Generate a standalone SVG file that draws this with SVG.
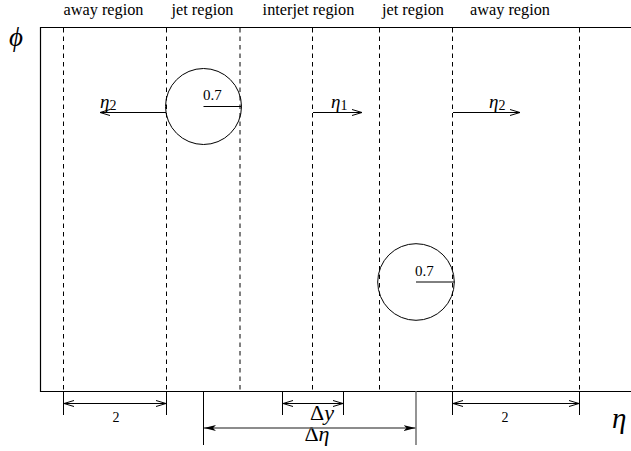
<svg xmlns="http://www.w3.org/2000/svg" width="631" height="451" viewBox="0 0 631 451">
<style>
.hdr{font-size:16.3px;text-anchor:middle}
.lbl{font-size:14px;text-anchor:middle}
.num{font-size:15px}
.math{font-style:italic}
.edge{stroke:#000;stroke-width:1.2;fill:none}
.dash{stroke:#000;stroke-width:1;stroke-dasharray:4.5,4;fill:none}
.thin{stroke:#000;stroke-width:1;fill:none}
.open{marker-end:url(#openHead)}
.dbl{marker-start:url(#openHead);marker-end:url(#openHead)}
</style>
<defs>
<marker id="openHead" viewBox="0 0 10 8" refX="10" refY="4" markerWidth="10" markerHeight="8" markerUnits="userSpaceOnUse" orient="auto-start-reverse">
<path d="M0,1 L10,4 L0,7" fill="none" stroke="#000" stroke-width="1"/>
</marker>
<marker id="solidHead" viewBox="0 0 12 8" refX="12" refY="4" markerWidth="12" markerHeight="8" markerUnits="userSpaceOnUse" orient="auto-start-reverse">
<path d="M0,1 L12,4 L0,7 L3,4 z" fill="#000"/>
</marker>
</defs>

<g id="frame">
<path class="edge" d="M631,27.5 H40.5 V391.5 H631"/>
</g>

<g id="region-boundaries">
<line class="dash" x1="63.5" y1="28" x2="63.5" y2="391"/>
<line class="dash" x1="166.5" y1="28" x2="166.5" y2="391"/>
<line class="dash" x1="240" y1="28" x2="240" y2="391"/>
<line class="dash" x1="312.5" y1="28" x2="312.5" y2="391"/>
<line class="dash" x1="379.5" y1="28" x2="379.5" y2="391"/>
<line class="dash" x1="452.5" y1="28" x2="452.5" y2="391"/>
<line class="dash" x1="579.5" y1="28" x2="579.5" y2="391"/>
</g>

<g font-family="Liberation Serif, Times New Roman, DejaVu Serif, serif" fill="#000">
<g id="headers">
<text class="hdr" x="103.5" y="15">away region</text>
<text class="hdr" x="202.5" y="15">jet region</text>
<text class="hdr" x="308.5" y="15">interjet region</text>
<text class="hdr" x="413" y="15">jet region</text>
<text class="hdr" x="510" y="15">away region</text>
</g>

<g id="axis-labels">
<text class="math" x="9" y="46" font-size="27">ϕ</text>
<text class="math" x="612" y="428" font-size="29">η</text>
</g>

<g id="jet1">
<circle class="thin" cx="203.5" cy="106.5" r="38"/>
<line class="thin" x1="203.5" y1="106.5" x2="241.5" y2="106.5"/>
<text class="num" x="203" y="100">0.7</text>
</g>

<g id="jet2">
<circle class="thin" cx="416" cy="282" r="38.3"/>
<line class="thin" x1="416" y1="282" x2="454.3" y2="282"/>
<text class="num" x="415" y="276">0.7</text>
</g>

<g id="labels">
<text class="math" x="100" y="108" font-size="19">η<tspan font-style="normal" font-size="14" dy="1.5">2</tspan></text>
<text class="math" x="331" y="108" font-size="19">η<tspan font-style="normal" font-size="14" dy="1.5">1</tspan></text>
<text class="math" x="489" y="108" font-size="19">η<tspan font-style="normal" font-size="14" dy="1.5">2</tspan></text>
<text class="lbl" x="116" y="422">2</text>
<text class="lbl" x="505" y="422">2</text>
<text x="322" y="420" font-size="22" text-anchor="middle">Δ<tspan font-style="italic">y</tspan></text>
<text x="317" y="441" font-size="22" text-anchor="middle">Δ<tspan font-style="italic">η</tspan></text>
</g>
</g>

<g id="connectors">
<line class="thin open" x1="166" y1="112.5" x2="100" y2="112.5"/>
<line class="thin open" x1="313" y1="112.5" x2="362" y2="112.5"/>
<line class="thin open" x1="453" y1="112.5" x2="520" y2="112.5"/>

<line class="thin" x1="63.5" y1="391" x2="63.5" y2="415"/>
<line class="thin" x1="166.5" y1="391" x2="166.5" y2="415"/>
<line class="thin dbl" x1="64" y1="403.5" x2="166" y2="403.5"/>

<line class="thin" x1="452.5" y1="391" x2="452.5" y2="415"/>
<line class="thin" x1="579.5" y1="391" x2="579.5" y2="415"/>
<line class="thin dbl" x1="453" y1="403.5" x2="579" y2="403.5"/>

<line class="thin" x1="282.5" y1="391" x2="282.5" y2="415"/>
<line class="thin" x1="343.5" y1="391" x2="343.5" y2="415"/>
<line class="thin dbl" x1="283" y1="403.5" x2="343" y2="403.5"/>

<line class="thin" x1="203.5" y1="391" x2="203.5" y2="445"/>
<line x1="416" y1="391" x2="416" y2="445" stroke="#666" stroke-width="1.4"/>
<line x1="204" y1="428" x2="415.5" y2="428" stroke="#666" stroke-width="1.6" marker-start="url(#solidHead)" marker-end="url(#solidHead)"/>
</g>
</svg>
